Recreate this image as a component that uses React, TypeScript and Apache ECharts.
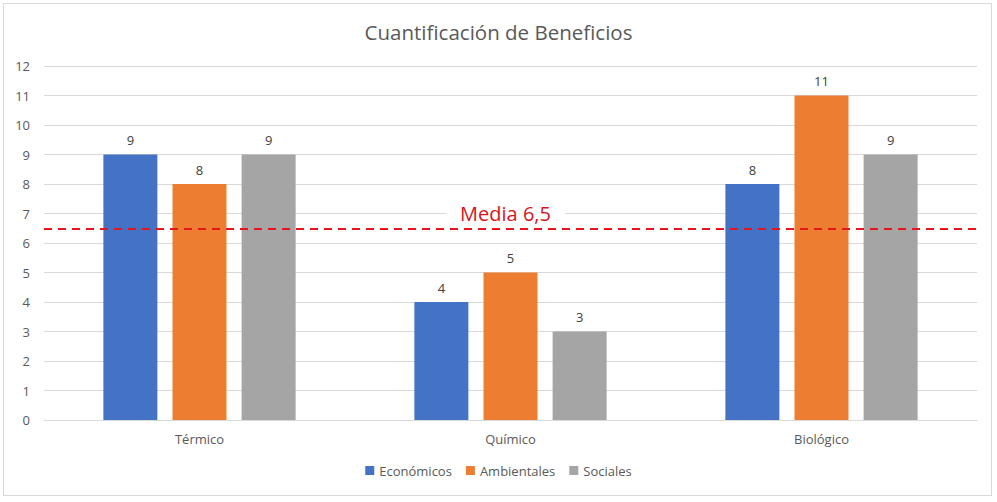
import React, { useEffect, useRef } from "react";
import * as echarts from "echarts";

const categories = ["Térmico", "Químico", "Biológico"];
const economicos = [9, 4, 8];
const ambientales = [8, 5, 11];
const sociales = [9, 3, 9];
const media = 6.5;
const mediaLabel = "Media 6,5";

export default function App() {
  const ref = useRef<HTMLDivElement>(null);
  useEffect(() => {
    document.body.style.margin = "0";
    const chart = echarts.init(ref.current!, null, { renderer: "svg" });
    const font = "'Open Sans', 'Noto Sans', sans-serif";
    const labelCfg = { show: true, position: "top", color: "#404040", fontSize: 13, fontFamily: font, distance: 8 };
    chart.setOption({
      animation: false,
      backgroundColor: "#fff",
      title: {
        text: "Cuantificación de Beneficios",
        left: "center",
        top: 16,
        textStyle: { color: "#595959", fontSize: 20.5, fontWeight: "normal", fontFamily: font },
      },
      legend: {
        bottom: 20,
        left: "center",
        itemWidth: 9,
        itemHeight: 9,
        itemGap: 14,
        icon: "rect",
        textStyle: { color: "#595959", fontSize: 13, fontFamily: font },
        data: ["Económicos", "Ambientales", "Sociales"],
      },
      grid: { left: 44, right: 20, top: 66, bottom: 82, containLabel: false },
      xAxis: {
        type: "category",
        data: categories,
        axisLine: { lineStyle: { color: "#d9d9d9" } },
        axisTick: { show: false },
        axisLabel: { color: "#595959", fontSize: 13, fontFamily: font, margin: 12 },
      },
      yAxis: {
        type: "value",
        min: 0,
        max: 12,
        interval: 1,
        axisLine: { show: false },
        axisTick: { show: false },
        splitLine: { lineStyle: { color: "#d9d9d9" } },
        axisLabel: { color: "#595959", fontSize: 13, fontFamily: font, margin: 14 },
      },
      series: [
        {
          name: "Económicos",
          type: "bar",
          data: economicos,
          barWidth: 54,
          barGap: "28%",
          itemStyle: { color: "#4472C4" },
          label: labelCfg,
          markLine: {
            symbol: "none",
            silent: true,
            data: [{ yAxis: media }],
            lineStyle: { color: "#E8141C", type: [8, 6], width: 2 },
            label: {
              show: true,
              position: "middle",
              formatter: mediaLabel,
              color: "#D9141C",
              fontSize: 20,
              fontFamily: font,
              backgroundColor: "#fff",
              padding: [0, 14],
              distance: 5,
              offset: [-5, 0],
            },
          },
        },
        { name: "Ambientales", type: "bar", data: ambientales, barWidth: 54, barGap: "28%", itemStyle: { color: "#ED7D31" }, label: labelCfg },
        { name: "Sociales", type: "bar", data: sociales, barWidth: 54, barGap: "28%", itemStyle: { color: "#A5A5A5" }, label: labelCfg },
      ],
    });
    return () => chart.dispose();
  }, []);
  return (
    <div style={{ position: "absolute", left: 0, top: 0, width: 997, height: 502, background: "#fff" }}>
      <div
        style={{
          position: "absolute",
          left: 3,
          top: 3,
          width: 989,
          height: 493,
          border: "1px solid #d9d9d9",
          boxSizing: "border-box",
          pointerEvents: "none",
          zIndex: 2,
        }}
      />
      <div ref={ref} style={{ width: 997, height: 502 }} />
    </div>
  );
}
